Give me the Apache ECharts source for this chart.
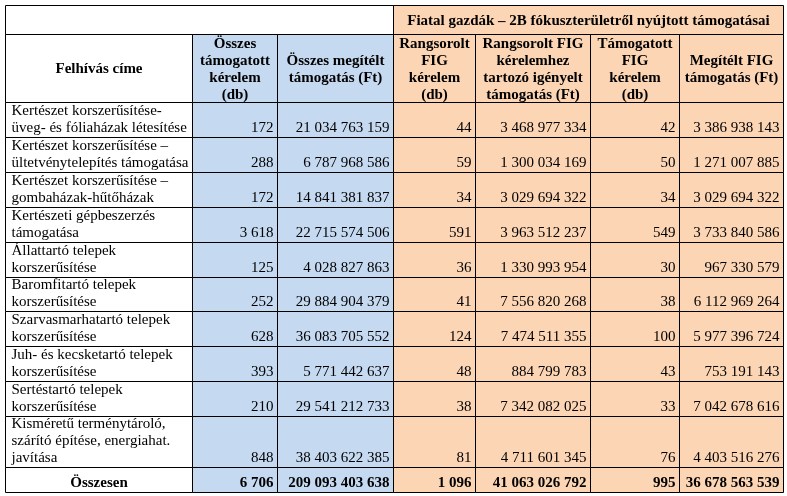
<!DOCTYPE html>
<html>
<head>
    <meta charset="utf-8">
    <title>Fiatal gazdák – 2B fókuszterület</title>
    <script src="https://cdn.jsdelivr.net/npm/echarts@6/dist/echarts.min.js"></script>
    <style type="text/css">
        html, body { margin: 0; padding: 0; background: #ffffff; }
        #main { width: 787px; height: 496px; }
    </style>
</head>
<body>
<div id="main"></div>
<script>
    // adatok
    var rowLabels = [
        'Kertészet korszerűsítése-\nüveg- és fóliaházak létesítése',
        'Kertészet korszerűsítése –\nültetvénytelepítés támogatása',
        'Kertészet korszerűsítése –\ngombaházak-hűtőházak',
        'Kertészeti gépbeszerzés\ntámogatása',
        'Állattartó telepek\nkorszerűsítése',
        'Baromfitartó telepek\nkorszerűsítése',
        'Szarvasmarhatartó telepek\nkorszerűsítése',
        'Juh- és kecsketartó telepek\nkorszerűsítése',
        'Sertéstartó telepek\nkorszerűsítése',
        'Kisméretű terménytároló,\nszárító építése, energiahat.\njavítása'
    ];
    var totalReq = [172, 288, 172, 3618, 125, 252, 628, 393, 210, 848];
    var totalAmount = [21034763159, 6787968586, 14841381837, 22715574506, 4028827863,
        29884904379, 36083705552, 5771442637, 29541212733, 38403622385];
    var rankedReq = [44, 59, 34, 591, 36, 41, 124, 48, 38, 81];
    var rankedAmount = [3468977334, 1300034169, 3029694322, 3963512237, 1330993954,
        7556820268, 7474511355, 884799783, 7342082025, 4711601345];
    var supportedReq = [42, 50, 34, 549, 30, 38, 100, 43, 33, 76];
    var figAmount = [3386938143, 1271007885, 3029694322, 3733840586, 967330579,
        6112969264, 5977396724, 753191143, 7042678616, 4403516276];
    var totals = [6706, 209093403638, 1096, 41063026792, 995, 36678563539];
    var totalLabel = 'Összesen';
    var groupTitle = 'Fiatal gazdák – 2B fókuszterületről nyújtott támogatásai';
    var colHeaders = [
        'Felhívás címe',
        'Összes\ntámogatott\nkérelem\n(db)',
        'Összes megítélt\ntámogatás (Ft)',
        'Rangsorolt\nFIG\nkérelem\n(db)',
        'Rangsorolt FIG\nkérelemhez\ntartozó igényelt\ntámogatás (Ft)',
        'Támogatott\nFIG\nkérelem\n(db)',
        'Megítélt FIG\ntámogatás (Ft)'
    ];

    // elrendezés (pixel)
    var colEdges = [5, 192, 277, 393, 475, 590, 679, 783];
    var rowEdges = [5, 34, 102, 137, 172, 207, 242, 277, 311, 346, 381, 416, 467, 492];
    var colBg = ['#ffffff', '#c5d9f1', '#c5d9f1', '#fcd5b4', '#fcd5b4', '#fcd5b4', '#fcd5b4'];
    var FONT = '"Liberation Serif", "Times New Roman", serif';

    function fmt(n) {
        return String(n).replace(/\B(?=(\d{3})+(?!\d))/g, ' ');
    }

    // cellák összeállítása
    var cells = [];
    function addCell(c0, c1, r0, r1, bg, text, align, bold) {
        cells.push({
            value: [colEdges[c0], rowEdges[r0], colEdges[c1], rowEdges[r1]],
            bg: bg, text: text, align: align, bold: bold
        });
    }
    addCell(0, 3, 0, 1, '#ffffff', '', 'center', true);
    addCell(3, 7, 0, 1, '#fcd5b4', groupTitle, 'center', true);
    colHeaders.forEach(function (h, c) {
        addCell(c, c + 1, 1, 2, colBg[c], h, 'center', true);
    });
    rowLabels.forEach(function (label, i) {
        var vals = [totalReq[i], totalAmount[i], rankedReq[i], rankedAmount[i], supportedReq[i], figAmount[i]];
        addCell(0, 1, i + 2, i + 3, colBg[0], label, 'left', false);
        vals.forEach(function (v, k) {
            addCell(k + 1, k + 2, i + 2, i + 3, colBg[k + 1], fmt(v), 'right', false);
        });
    });
    var last = rowLabels.length + 2;
    addCell(0, 1, last, last + 1, colBg[0], totalLabel, 'center', true);
    totals.forEach(function (v, k) {
        addCell(k + 1, k + 2, last, last + 1, colBg[k + 1], fmt(v), 'right', true);
    });

    var chart = echarts.init(document.getElementById('main'), null, {renderer: 'canvas'});
    chart.setOption({
        backgroundColor: '#ffffff',
        animation: false,
        grid: {left: 0, right: 0, top: 0, bottom: 0},
        xAxis: {type: 'value', min: 0, max: 787, show: false},
        yAxis: {type: 'value', min: 0, max: 496, inverse: true, show: false},
        series: [{
            type: 'custom',
            silent: true,
            clip: false,
            data: cells,
            renderItem: function (params, api) {
                var cell = cells[params.dataIndex];
                var p0 = api.coord([api.value(0), api.value(1)]);
                var p1 = api.coord([api.value(2), api.value(3)]);
                var x0 = Math.round(p0[0]) + 0.5, y0 = Math.round(p0[1]) + 0.5;
                var x1 = Math.round(p1[0]) + 0.5, y1 = Math.round(p1[1]) + 0.5;
                var tx, ty, va;
                var isHeader = params.dataIndex < 2 + colHeaders.length;
                if (cell.align === 'left') tx = x0 + 6;
                else if (cell.align === 'right') tx = x1 - 4;
                else tx = (x0 + x1) / 2;
                if (isHeader) {
                    ty = (y0 + y1) / 2 + 1;
                    va = 'middle';
                } else {
                    ty = y1 - 1;
                    va = 'bottom';
                }
                return {
                    type: 'group',
                    children: [{
                        type: 'rect',
                        shape: {x: x0, y: y0, width: x1 - x0, height: y1 - y0},
                        style: {fill: cell.bg, stroke: '#000000', lineWidth: 1}
                    }, {
                        type: 'text',
                        style: {
                            text: cell.text,
                            x: tx,
                            y: ty,
                            align: cell.align,
                            verticalAlign: va,
                            font: (cell.bold ? 'bold ' : '') + '15px ' + FONT,
                            lineHeight: 17,
                            fill: '#000000'
                        }
                    }]
                };
            }
        }]
    });
</script>
</body>
</html>
